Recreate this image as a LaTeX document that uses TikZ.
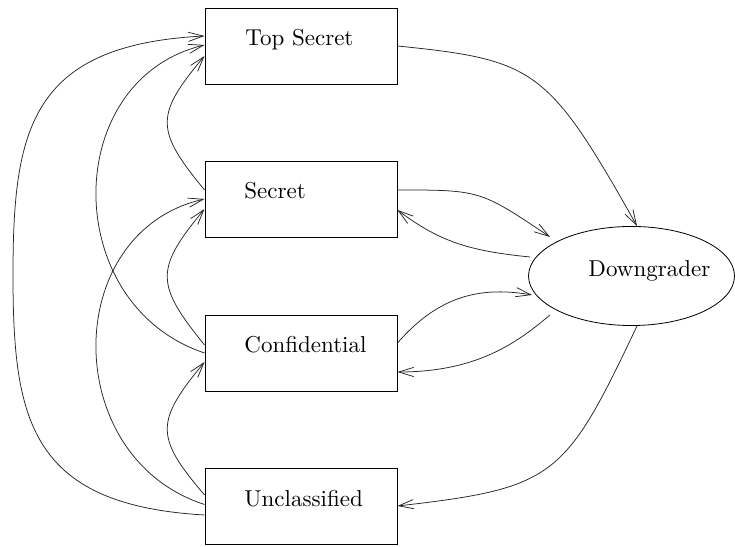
\documentclass[tikz,border=0pt]{standalone}
\usetikzlibrary{arrows.meta,calc,shapes.geometric}
\begin{document}
\begin{tikzpicture}[x=0.435pt,y=-0.435pt,
  level/.style={draw, rectangle, minimum width=83.52pt, minimum height=33.06pt,
                inner sep=0pt, line width=0.4pt},
  caption/.style={anchor=base west, inner sep=0pt, font=\fontsize{10}{12}\selectfont},
  filter/.style={draw, ellipse, minimum width=89.6pt, minimum height=43.1pt,
                 inner sep=0pt, line width=0.35pt},
  flow/.style={-{Straight Barb[length=6.5pt,width=4pt]}, line width=0.33pt, draw=black!85}]
\useasboundingbox (0,0) rectangle (735,547);

% classification levels
\node[level] (ts) at (301,46) {};
\node[level] (s)  at (301,199) {};
\node[level] (c)  at (301,353) {};
\node[level] (u)  at (301,506.5) {};
\node[caption] (tsl) at (245,46)    {Top Secret};
\node[caption] (sl)  at (244,199)   {Secret};
\node[caption] (cl)  at (244,353)   {Confidential};
\node[caption] (ul)  at (244,506.5) {Unclassified};

% downgrader
\node[filter] (d) at (631.5,276) {};
\node[caption] (dl) at (588,277) {Downgrader};

% upward flows on the left
\draw[flow] ($(u.west)+(0,8.5)$) .. controls (30,505) and (13,420) .. (13,275)
            .. controls (13,130) and (30,45) .. ($(ts.west)+(0,-10)$);
\draw[flow] (c.west) .. controls (60,305) and (60,80) .. ($(ts.west)+(0,-1)$);
\draw[flow] ($(u.west)+(0,-2)$) .. controls (60,458) and (60,232) .. (s.west);
\draw[flow] ($(s.west)+(0,-9)$) .. controls (155,130) and (155,115) .. ($(ts.west)+(0,10)$);
\draw[flow] ($(c.west)+(0,-8)$) .. controls (155,284) and (155,269) .. ($(s.west)+(0,10)$);
\draw[flow] ($(u.west)+(0,-11.5)$) .. controls (155,437) and (155,422) .. ($(c.west)+(0,9)$);

% flows through the downgrader
\draw[flow] (ts.east) .. controls (535,60) and (548,68) .. ($(d.north)+(5.5,0)$);
\draw[flow] ($(s.east)+(0,-9)$) .. controls (480,190) .. ($(d.center)+(-81.5,-39)$);
\draw[flow] ($(d.center)+(-101.5,-19)$) .. controls (470,251) and (440,242) .. ($(s.east)+(0,11)$);
\draw[flow] ($(c.east)+(0,-10)$) .. controls (435,300) and (475,285) .. ($(d.center)+(-99.5,19)$);
\draw[flow] ($(d.center)+(-81.5,39)$) .. controls (520,340) and (480,372) .. ($(c.east)+(0,19)$);
\draw[flow] ($(d.south)+(5.5,0)$) .. controls (565,478) and (555,488) .. ($(u.east)+(0,-0.5)$);
\end{tikzpicture}
\end{document}
